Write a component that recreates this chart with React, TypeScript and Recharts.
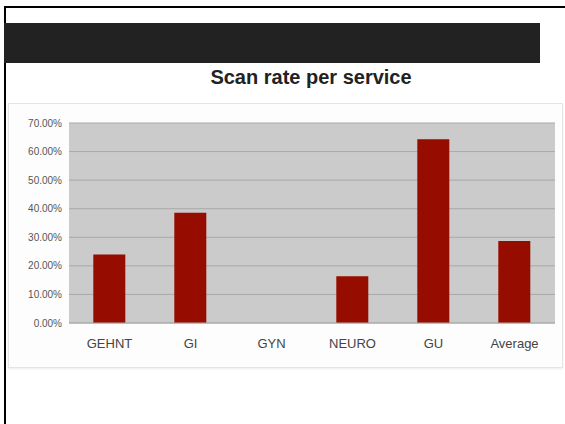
import { BarChart, Bar, XAxis, YAxis, CartesianGrid } from "recharts";

const services = ["GEHNT", "GI", "GYN", "NEURO", "GU", "Average"];
const scanRates = [0.24, 0.386, 0, 0.164, 0.643, 0.287];
const yTicks = [0, 0.1, 0.2, 0.3, 0.4, 0.5, 0.6, 0.7];

const data = services.map((name, i) => ({ name, rate: scanRates[i] }));

const font = "'Liberation Sans', Arial, sans-serif";

export default function App() {
  return (
    <div
      style={{
        position: "absolute",
        left: 0,
        top: 0,
        width: 565,
        height: 424,
        background: "#fff",
        overflow: "hidden",
        fontFamily: font,
      }}
    >
      {/* slide frame lines */}
      <div style={{ position: "absolute", left: 4, top: 6, width: 561, height: 2, background: "#000" }} />
      <div style={{ position: "absolute", left: 4, top: 6, width: 2, height: 418, background: "#000" }} />
      <div style={{ position: "absolute", left: 4, top: 23, width: 536, height: 40, background: "#222" }} />

      <div
        style={{
          position: "absolute",
          left: 0,
          width: 622,
          top: 66,
          textAlign: "center",
          fontSize: 20,
          fontWeight: "bold",
          color: "#222",
        }}
      >
        Scan rate per service
      </div>

      <div
        style={{
          position: "absolute",
          left: 8,
          top: 103,
          width: 555,
          height: 265,
          background: "#fdfdfd",
          border: "1px solid #e4e4e4",
          boxSizing: "border-box",
          boxShadow: "0 1px 2px rgba(0,0,0,0.08)",
        }}
      >
        <BarChart
          width={555}
          height={265}
          data={data}
          margin={{ top: 19, right: 9, bottom: 16, left: 0 }}
          barCategoryGap="30%"
        >
          <CartesianGrid vertical={false} fill="#cbcbcb" stroke="#a9a9a9" strokeWidth={1} />
          <YAxis
            width={60}
            domain={[0, 0.7]}
            ticks={yTicks}
            tickFormatter={(v: number) => `${(v * 100).toFixed(2)}%`}
            axisLine={false}
            tickLine={false}
            tickSize={0}
            tickMargin={7}
            tick={{ fontSize: 10, fill: "#555", fontFamily: font }}
          />
          <XAxis
            dataKey="name"
            height={30}
            axisLine={{ stroke: "#aaa" }}
            tickLine={false}
            tickMargin={10}
            tick={{ fontSize: 13, fill: "#444", fontFamily: font }}
          />
          <Bar dataKey="rate" fill="#960d00" isAnimationActive={false} />
        </BarChart>
      </div>
    </div>
  );
}
